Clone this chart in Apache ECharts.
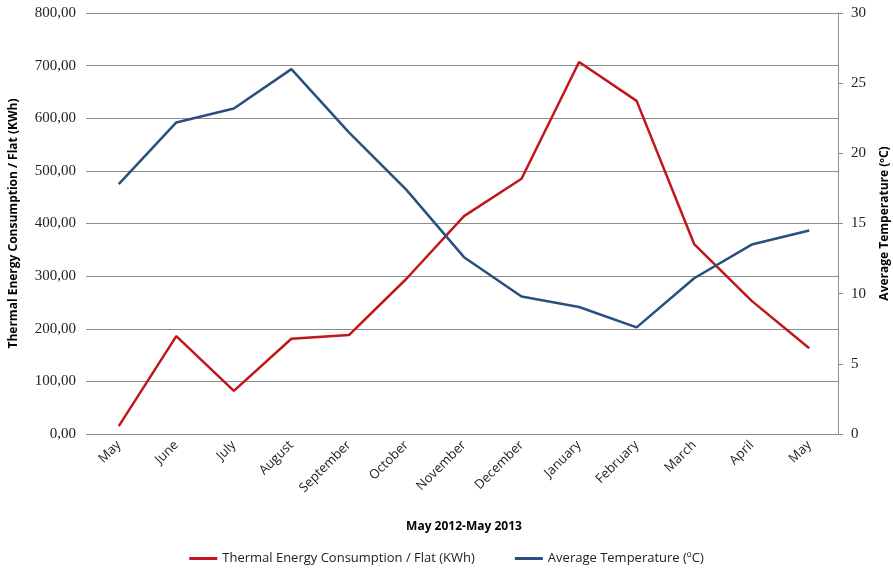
<!DOCTYPE html>
<html>
<head>
    <meta charset="UTF-8">
    <title>Thermal Energy vs Temperature</title>
    <script type="text/javascript" src="https://cdn.jsdelivr.net/npm/echarts@6/dist/echarts.min.js"></script>
</head>
<body style="margin:0">
    <div id="main" style="width:893px; height:575px;"></div>
    <script>
        var months = ["May", "June", "July", "August", "September", "October", "November",
                      "December", "January", "February", "March", "April", "May"];
        var energy = [15, 186, 82, 181, 188, 295, 414, 485, 707, 633, 361, 253, 163];
        var temperature = [17.8, 22.2, 23.2, 26.0, 21.5, 17.4, 12.6, 9.8, 9.05, 7.6, 11.1, 13.5, 14.5];

        var energyName = "Thermal Energy Consumption / Flat (KWh)";
        var tempName = "Average Temperature (ºC)";
        var sans = "Open Sans, Liberation Sans, sans-serif";
        var serif = "Liberation Serif, DejaVu Serif, serif";

        var chart = echarts.init(document.getElementById('main'), null, {renderer: 'canvas'});

        var option = {
            animation: false,
            backgroundColor: "#ffffff",
            grid: {left: 90, right: 55, top: 13, bottom: 141, outerBoundsMode: "none"},
            legend: {
                bottom: 5,
                left: "center",
                itemGap: 40,
                itemWidth: 28,
                itemHeight: 3,
                icon: "rect",
                textStyle: {fontFamily: sans, fontSize: 13, color: "#222"},
                data: [energyName, tempName]
            },
            xAxis: {
                type: "category",
                data: months,
                boundaryGap: true,
                name: "May 2012-May 2013",
                nameLocation: "middle",
                nameGap: 87,
                nameTextStyle: {fontFamily: sans, fontSize: 12, fontWeight: "bold", color: "#000"},
                axisLine: {lineStyle: {color: "#8c8c8c"}},
                axisTick: {show: false},
                axisLabel: {rotate: 45, fontFamily: sans, fontSize: 13, color: "#222", margin: 9}
            },
            yAxis: [
                {
                    type: "value",
                    min: 0, max: 800, interval: 100,
                    name: "Thermal Energy Consumption / Flat (KWh)",
                    nameLocation: "middle",
                    nameGap: 70,
                    nameTextStyle: {fontFamily: sans, fontSize: 12, fontWeight: "bold", color: "#000"},
                    axisLine: {show: false},
                    axisTick: {show: true, length: 4, lineStyle: {color: "#8c8c8c"}},
                    axisLabel: {
                        fontFamily: serif, fontSize: 15, color: "#222", margin: 14,
                        formatter: function (v) { return v.toFixed(2).replace(".", ","); }
                    },
                    splitLine: {lineStyle: {color: "#8c8c8c"}}
                },
                {
                    type: "value",
                    min: 0, max: 30, interval: 5,
                    name: "Average Temperature (ºC)",
                    nameLocation: "middle",
                    nameGap: 41,
                    nameRotate: 90,
                    nameTextStyle: {fontFamily: sans, fontSize: 12, fontWeight: "bold", color: "#000"},
                    axisLine: {show: true, lineStyle: {color: "#8c8c8c"}},
                    axisTick: {show: true, length: 5, lineStyle: {color: "#8c8c8c"}},
                    axisLabel: {fontFamily: serif, fontSize: 15, color: "#222", margin: 13},
                    splitLine: {show: false}
                }
            ],
            series: [
                {
                    name: energyName,
                    type: "line",
                    yAxisIndex: 0,
                    data: energy,
                    symbol: "none",
                    lineStyle: {color: "#c0161c", width: 2.5},
                    itemStyle: {color: "#c0161c"}
                },
                {
                    name: tempName,
                    type: "line",
                    yAxisIndex: 1,
                    data: temperature,
                    symbol: "none",
                    lineStyle: {color: "#2a4f7f", width: 2.5},
                    itemStyle: {color: "#2a4f7f"}
                }
            ]
        };
        chart.setOption(option);
    </script>
</body>
</html>
